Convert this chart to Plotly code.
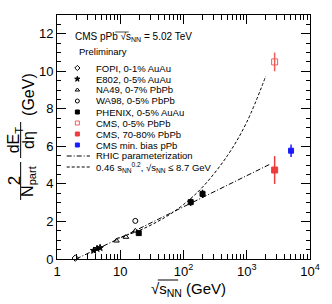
import plotly.graph_objects as go

# ---------------- data ----------------
fopi_x = [1.95]; fopi_y = [0.05]
e802_x = [3.8, 4.3, 4.8]; e802_y = [0.45, 0.55, 0.6]
na49_x = [8.7, 12.3, 17.3]; na49_y = [0.97, 1.17, 1.5]
wa98_x = [17.3]; wa98_y = [2.03]
phenix_x = [19.6, 130, 200]; phenix_y = [1.38, 3.03, 3.47]; phenix_err = [0.1, 0.2, 0.22]
cms_c_x = [2760]; cms_c_y = [10.5]; cms_c_err = [0.5]
cms_p_x = [2760]; cms_p_y = [4.74]; cms_p_err = [0.74]
cms_ppb_x = [5020]; cms_ppb_y = [5.77]; cms_ppb_err = [0.33]

rhic_x = [2.0, 10, 100, 1000, 2300]
rhic_y = [0.0, 1.12, 2.78, 4.44, 5.04]
pow_x = [8.7, 20, 50, 100, 200, 500, 1000, 2000]
pow_y = [1.09, 1.52, 2.2, 2.9, 3.83, 5.53, 7.29, 9.75]

x_tickvals = [1, 10, 100, 1000, 10000]
x_ticktext = ["1", "10", "10<sup>2</sup>", "10<sup>3</sup>", "10<sup>4</sup>"]

legend_labels = ["FOPI, 0-1% AuAu", "E802, 0-5% AuAu", "NA49, 0-7% PbPb", "WA98, 0-5% PbPb",
                 "PHENIX, 0-5% AuAu", "CMS, 0-5% PbPb", "CMS, 70-80% PbPb", "CMS min. bias pPb",
                 "RHIC parameterization",
                 "0.46 s<sub>NN</sub><sup>0.2</sup>, \u221As<sub>NN</sub> \u2264 8.7 GeV"]

RED = "#ee3b3b"; RED_OPEN = "#f25c5c"; BLUE = "#1a1aff"
FONT = "Liberation Sans, Arial, sans-serif"

# ---------------- geometry helpers (pixel -> paper) ----------------
W, H = 332, 304
L, R, T, B = 57, 14, 15, 45
PW, PH = W - L - R, H - T - B
def fx(px): return (px - L) / PW
def fy(py): return (H - B - py) / PH

fig = go.Figure()

styles = [
    dict(symbol="diamond-open", size=5, color="black"),
    dict(symbol="star", size=5, color="black"),
    dict(symbol="triangle-up-open", size=5, color="black"),
    dict(symbol="circle-open", size=5, color="black"),
    dict(symbol="square", size=5, color="black"),
    dict(symbol="square-open", size=6, color=RED_OPEN),
    dict(symbol="square", size=6, color=RED),
    dict(symbol="square", size=5, color=BLUE),
]

# curves
fig.add_trace(go.Scatter(x=rhic_x, y=rhic_y, mode="lines",
                         line=dict(color="black", width=1, dash="5px,2px,1px,2px"), showlegend=False))
fig.add_trace(go.Scatter(x=pow_x, y=pow_y, mode="lines", line_shape="spline",
                         line=dict(color="black", width=1, dash="3px,2px"), showlegend=False))

series = [
    (fopi_x, fopi_y, None), (e802_x, e802_y, None), (na49_x, na49_y, None), (wa98_x, wa98_y, None),
    (phenix_x, phenix_y, phenix_err), (cms_c_x, cms_c_y, cms_c_err), (cms_p_x, cms_p_y, cms_p_err),
    (cms_ppb_x, cms_ppb_y, cms_ppb_err),
]
for (xs, ys, err), st in zip(series, styles):
    fig.add_trace(go.Scatter(
        x=xs, y=ys, mode="markers",
        marker=dict(symbol=st["symbol"], size=st["size"], color=st["color"],
                    line=dict(color=st["color"], width=1)),
        error_y=(dict(type="data", array=err, color=st["color"], thickness=1.5, width=0, visible=True)
                 if err else None),
        showlegend=False, cliponaxis=False))

# ---------------- manual legend ----------------
leg_y0, leg_dy = 68, 11
mk_x, txt_x = 78, 95
for i, st in enumerate(styles):
    fig.add_trace(go.Scatter(x=[fx(mk_x)], y=[fy(leg_y0 + i * leg_dy)], mode="markers",
                             xaxis="x2", yaxis="y2",
                             marker=dict(symbol=st["symbol"], size=4, color=st["color"],
                                         line=dict(color=st["color"], width=1)),
                             showlegend=False))
for i, dash in [(8, "5px,2px,1px,2px"), (9, "3px,2px")]:
    yy = fy(leg_y0 + i * leg_dy)
    fig.add_trace(go.Scatter(x=[fx(67), fx(91)], y=[yy, yy], mode="lines", xaxis="x2", yaxis="y2",
                             line=dict(color="black", width=1, dash=dash), showlegend=False))

annotations = []
for i, lab in enumerate(legend_labels):
    annotations.append(dict(x=fx(txt_x), y=fy(leg_y0 + i * leg_dy), xref="paper", yref="paper",
                            text=lab, showarrow=False, xanchor="left", yanchor="middle",
                            font=dict(size=9.5, family=FONT, color="black")))
annotations.append(dict(x=fx(74), y=fy(37), xref="paper", yref="paper",
                        text="CMS pPb \u221As<sub>NN</sub> = 5.02 TeV", showarrow=False,
                        xanchor="left", yanchor="middle", font=dict(size=10, family=FONT)))
annotations.append(dict(x=fx(78), y=fy(51), xref="paper", yref="paper",
                        text="Preliminary", showarrow=False,
                        xanchor="left", yanchor="middle", font=dict(size=9.5, family=FONT)))

# y-axis title built from rotated pieces
annotations += [
    dict(x=fx(13), y=fy(181), text="2", textangle=-90, font=dict(size=17, family=FONT)),
    dict(x=fx(27), y=fy(181), text="N<sub>part</sub>", textangle=-90, font=dict(size=16, family=FONT)),
    dict(x=fx(13), y=fy(140), text="dE<sub>T</sub>", textangle=-90, font=dict(size=16, family=FONT)),
    dict(x=fx(27), y=fy(140), text="d\u03b7", textangle=-90, font=dict(size=16, family=FONT)),
    dict(x=fx(27), y=fy(94), text="(GeV)", textangle=-90, font=dict(size=16, family=FONT)),
]
for a in annotations[-5:]:
    a.update(xref="paper", yref="paper", showarrow=False, xanchor="center", yanchor="middle")

# x-axis title
annotations.append(dict(x=fx(152), y=fy(289), xref="paper", yref="paper",
                        text="\u221As<sub>NN</sub> (GeV)", showarrow=False,
                        xanchor="left", yanchor="middle", font=dict(size=15, family=FONT)))

shapes = [
    dict(type="line", xref="paper", yref="paper", x0=fx(19.5), x1=fx(19.5), y0=fy(162), y1=fy(200),
         line=dict(color="black", width=1)),
    dict(type="line", xref="paper", yref="paper", x0=fx(19.5), x1=fx(19.5), y0=fy(122), y1=fy(158),
         line=dict(color="black", width=1)),
    dict(type="line", xref="paper", yref="paper", x0=fx(161), x1=fx(182), y0=fy(280), y1=fy(280),
         line=dict(color="black", width=1)),
    dict(type="line", xref="paper", yref="paper", x0=fx(117), x1=fx(131), y0=fy(32), y1=fy(32),
         line=dict(color="black", width=0.7)),
]

fig.update_layout(
    width=W, height=H, margin=dict(l=L, r=R, t=T, b=B),
    plot_bgcolor="white", paper_bgcolor="white",
    font=dict(family=FONT, color="black"),
    showlegend=False, hovermode=False,
    annotations=annotations, shapes=shapes,
    xaxis=dict(type="log", range=[0, 4], tickmode="array", tickvals=x_tickvals, ticktext=x_ticktext,
               ticks="inside", ticklen=9, tickwidth=1, tickcolor="black", mirror="ticks",
               showline=True, linecolor="black", linewidth=1, showgrid=False, zeroline=False,
               tickfont=dict(size=13, family=FONT),
               minor=dict(tickmode="array",
                          tickvals=[m * 10 ** d for d in range(4) for m in range(2, 10)],
                          ticks="inside", ticklen=5, tickcolor="black", showgrid=False)),
    yaxis=dict(range=[0, 13], tickmode="linear", tick0=0, dtick=2,
               ticks="inside", ticklen=9, tickwidth=1, tickcolor="black", mirror="ticks",
               showline=True, linecolor="black", linewidth=1, showgrid=False, zeroline=False,
               tickfont=dict(size=13, family=FONT),
               minor=dict(dtick=0.5, ticks="inside", ticklen=4, tickcolor="black", showgrid=False)),
    xaxis2=dict(overlaying="x", range=[0, 1], visible=False, fixedrange=True),
    yaxis2=dict(overlaying="y", range=[0, 1], visible=False, fixedrange=True),
)

fig.write_html("out.html", config={"displayModeBar": False},
               post_script="document.body.style.margin='0';")
